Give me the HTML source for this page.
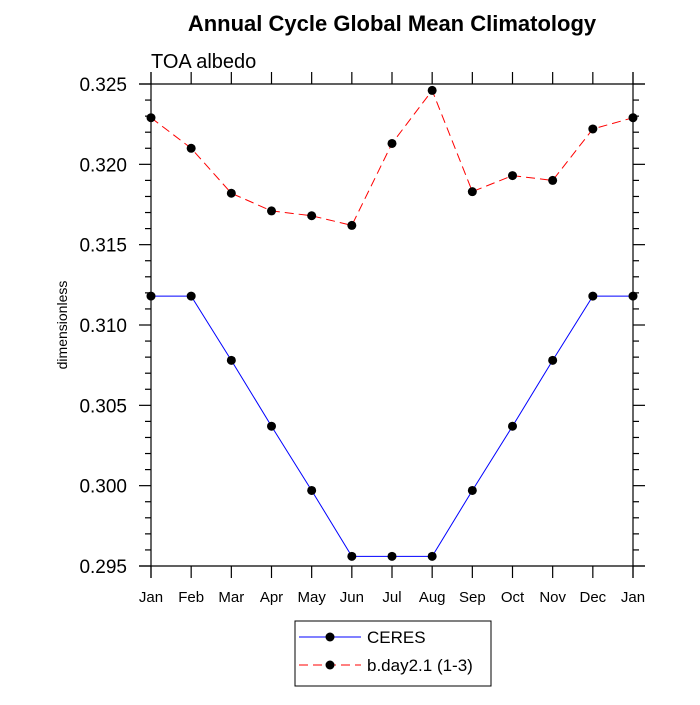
<!DOCTYPE html>
<html><head><meta charset="utf-8"><style>
body{margin:0;background:#fff;font-family:"Liberation Sans",sans-serif}
</style></head><body>
<svg id="c" width="700" height="700" xmlns="http://www.w3.org/2000/svg">
<text x="392" y="31" font-size="22" font-weight="bold" text-anchor="middle">Annual Cycle Global Mean Climatology</text>
<text x="151" y="68" font-size="20">TOA albedo</text>
<text transform="translate(67,325) rotate(-90)" font-size="14" text-anchor="middle">dimensionless</text>
<g id="axes"></g><g id="series"></g>
<g>
<rect x="295" y="621" width="196" height="65" fill="none" stroke="#000"/>
<g>
<line x1="299" y1="637" x2="361" y2="637" stroke="#00f"/><circle cx="330" cy="637" r="4.5"/>
<text x="367" y="643" font-size="17">CERES</text></g>
<g>
<line x1="299" y1="665" x2="361" y2="665" stroke="#f00" stroke-dasharray="9,5"/><circle cx="330" cy="665" r="4.5"/>
<text x="367" y="671" font-size="17">b.day2.1 (1-3)</text></g>
</g>
</svg>
<script>
const months=["Jan","Feb","Mar","Apr","May","Jun","Jul","Aug","Sep","Oct","Nov","Dec","Jan"];
const ceres=[0.3118,0.3118,0.3078,0.3037,0.2997,0.2956,0.2956,0.2956,0.2997,0.3037,0.3078,0.3118,0.3118];
const model=[0.3229,0.3210,0.3182,0.3171,0.3168,0.3162,0.3213,0.3246,0.3183,0.3193,0.3190,0.3222,0.3229];
const yTicks=["0.295","0.300","0.305","0.310","0.315","0.320","0.325"];
const L=151,R=633,T=84,B=566,ymin=0.295,ymax=0.325;
const NS="http://www.w3.org/2000/svg";
const xs=i=>L+(R-L)*i/(months.length-1);
const ys=v=>B-(v-ymin)/(ymax-ymin)*(B-T);
function mk(p,tag,at){const e=document.createElementNS(NS,tag);for(const k in at)e.setAttribute(k,at[k]);p.appendChild(e);return e;}
const ax=document.getElementById('axes');
const frame=mk(ax,'g',{stroke:'#000','stroke-width':1.2});


mk(frame,'line',{x1:139,y1:T,x2:645,y2:T});mk(frame,'line',{x1:139,y1:B,x2:645,y2:B});
mk(frame,'line',{x1:L,y1:72,x2:L,y2:578});mk(frame,'line',{x1:R,y1:72,x2:R,y2:578});
months.forEach((m,i)=>{const x=xs(i);
mk(frame,'line',{x1:x,y1:B,x2:x,y2:578});mk(frame,'line',{x1:x,y1:T,x2:x,y2:72});
const t=mk(ax,'text',{x:x,y:602,'font-size':15,'text-anchor':'middle'});t.textContent=m;

});
for(let k=0;k<=30;k++){const v=ymin+k*0.001,y=ys(v),maj=k%5==0;
mk(frame,'line',{x1:L-(maj?12:6),y1:y,x2:L,y2:y});mk(frame,'line',{x1:R,y1:y,x2:R+(maj?12:6),y2:y});}
yTicks.forEach(s=>{const t=mk(ax,'text',{x:127,y:ys(parseFloat(s))+7,'font-size':19,'text-anchor':'end'});t.textContent=s;

});
const sg=document.getElementById('series');
function draw(data,color,dash,name){const g=mk(sg,'g',{});


mk(g,'polyline',{points:data.map((v,i)=>xs(i)+','+ys(v)).join(' '),fill:'none',stroke:color,'stroke-width':1,'stroke-dasharray':dash});
data.forEach((v,i)=>{const c=mk(g,'circle',{cx:xs(i),cy:ys(v),r:4.5});

});}
draw(ceres,'#00f','none','series-ceres');
draw(model,'#f00','9,5','series-model');
</script>
</body></html>
